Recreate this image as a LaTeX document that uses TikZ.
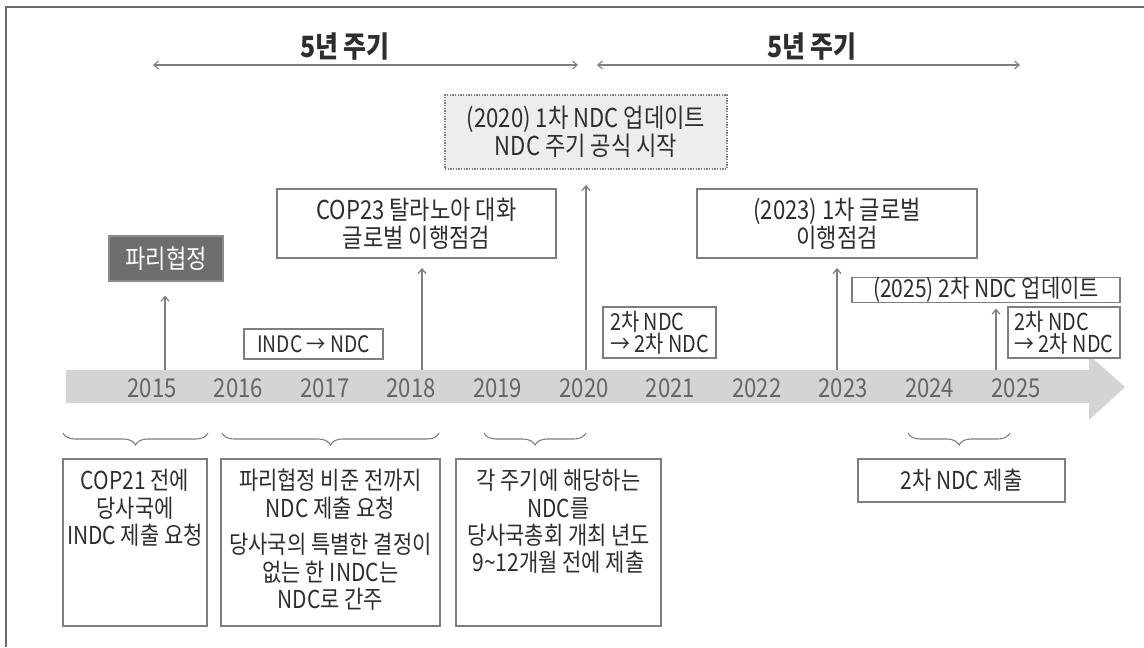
\documentclass[tikz,border=0pt]{standalone}
\usepackage{fontspec}
\setmainfont{Noto Sans CJK KR}[FakeStretch=0.85]
\usetikzlibrary{arrows.meta,decorations.pathreplacing,calc}
\definecolor{txt}{HTML}{2E2E2E}
\definecolor{bord}{HTML}{7E7E7E}
\definecolor{yr}{HTML}{666666}
\definecolor{band}{HTML}{D4D4D4}
\definecolor{dark}{HTML}{6E6E6E}
\definecolor{dotfill}{HTML}{EDEDED}
\definecolor{framec}{HTML}{6A6A6A}
\newcommand\mybox[7]{\node[#6, minimum width={(#4-#2)*0.75pt}, minimum height={(#5-#3)*0.75pt}] (#1) at ({(#2+#4)/2},{(#3+#5)/2}) {#7};}
\begin{document}
\begin{tikzpicture}[x=0.75pt,y=-0.75pt,
  box/.style={draw=bord, line width=1pt, fill=white, inner sep=0pt, outer sep=0pt, align=center, text=txt, font=\fontsize{19.5}{21}\selectfont},
  smallbox/.style={box, font=\fontsize{17.5}{15.5}\selectfont},
  darkbox/.style={box, fill=dark, draw=dark!80!white, text=white},
  dotbox/.style={box, fill=dotfill, draw=bord, densely dotted},
  btext/.style={anchor=north, align=center, text=txt, inner sep=0pt, font=\fontsize{18.5}{20.5}\selectfont},
  year/.style={text=yr, font=\fontsize{19.5}{20}\selectfont, inner sep=0pt},
  head/.style={text=txt, font=\bfseries\fontsize{22}{23}\selectfont, inner sep=0pt},
  up/.style={draw=bord, line width=0.9pt, -{Straight Barb[length=3.5pt,width=6pt]}},
  span/.style={draw=bord, line width=0.8pt, {Straight Barb[length=3.5pt,width=6pt]}-{Straight Barb[length=3.5pt,width=6pt]}},
  brc/.style={draw=bord, line width=0.8pt, decorate, decoration={brace, mirror, amplitude=9pt}}
]
\useasboundingbox (0,0) rectangle (1144,647);
\fill[white] (0,0) rectangle (1144,647);
\draw[framec, line width=1.1pt] (6,647) -- (6,7) -- (1144,7);

% top cycles
\node[head] (h1) at (345,47) {5년 주기};
\node[head] (h2) at (812,47) {5년 주기};
\coordinate (s1a) at (153,65); \coordinate (s1b) at (578,65);
\coordinate (s2a) at (597,65); \coordinate (s2b) at (1020,65);
\draw[span] (s1a) -- (s1b);
\draw[span] (s2a) -- (s2b);

% timeline band
\fill[band] (66,370) -- (1089,370) -- (1089,355) -- (1125,387) -- (1089,420) -- (1089,403) -- (66,403) -- cycle;
\foreach \yy [count=\i from 0] in {2015,2016,2017,2018,2019,2020,2021,2022,2023,2024,2025}
  \node[year] (y\yy) at ({152+86.4*\i},388) {\yy};

% upper boxes
\mybox{upd}{445}{95}{727}{169}{dotbox}{(2020) 1차 NDC 업데이트\\NDC 주기 공식 시작}
\mybox{cop}{277}{189}{556}{258}{box}{COP23 탈라노아 대화\\글로벌 이행점검}
\mybox{gst}{697}{189}{977}{258}{box}{(2023) 1차 글로벌\\이행점검}
\mybox{paris}{109}{236}{223}{281}{darkbox}{파리협정}
\mybox{upd2}{852}{278}{1120}{302}{box, font=\fontsize{18.5}{19}\selectfont}{(2025) 2차 NDC 업데이트}
\mybox{indc}{244}{329}{383}{359}{box, font=\fontsize{17}{18}\selectfont}{INDC → NDC}
\mybox{n1}{603}{307}{716}{358}{smallbox, align=left}{2차 NDC\\→ 2차 NDC}
\mybox{n2}{1008}{307}{1120}{358}{smallbox, align=left}{2차 NDC\\→ 2차 NDC}

% arrows from the timeline
\coordinate (t15) at (165,370);
\coordinate (t18) at (422,370);
\coordinate (t20) at (586,370);
\coordinate (t23) at (837,370);
\coordinate (t25) at (996,370);
\draw[up, shorten >=11pt] (t15) -- (t15 |- paris.south);
\draw[up, shorten >=7.5pt] (t18) -- (t18 |- cop.south);
\draw[up, shorten >=12pt] (t20) -- (t20 |- upd.south);
\draw[up, shorten >=7.5pt] (t23) -- (t23 |- gst.south);
\draw[up, shorten >=4.5pt] (t25) -- (t25 |- upd2.south);

% braces
\draw[brc] (63,433) -- (208,433);
\draw[brc] (222,433) -- (439,433);
\draw[brc] (484,433) -- (586,433);
\draw[brc] (908,433) -- (1010,433);

% lower boxes
\mybox{b1}{63}{459}{207}{626}{box}{}
\mybox{b2}{221}{459}{440}{626}{box}{}
\mybox{b3}{456}{459}{661}{626}{box}{}
\mybox{b4}{858}{459}{1065}{502}{box, font=\fontsize{18.5}{20}\selectfont}{2차 NDC 제출}
\node[btext] (tx1) at ($(b1.north)+(0,10)$) {COP21 전에\\당사국에\\INDC 제출 요청};
\node[btext] (tx2) at ($(b2.north)+(0,10)$) {파리협정 비준 전까지\\NDC 제출 요청\\[7pt]당사국의 특별한 결정이\\없는 한 INDC는\\NDC로 간주};
\node[btext] (tx3) at ($(b3.north)+(0,10)$) {각 주기에 해당하는\\NDC를\\당사국총회 개최 년도\\9\textasciitilde12개월 전에 제출};
\end{tikzpicture}
\end{document}
